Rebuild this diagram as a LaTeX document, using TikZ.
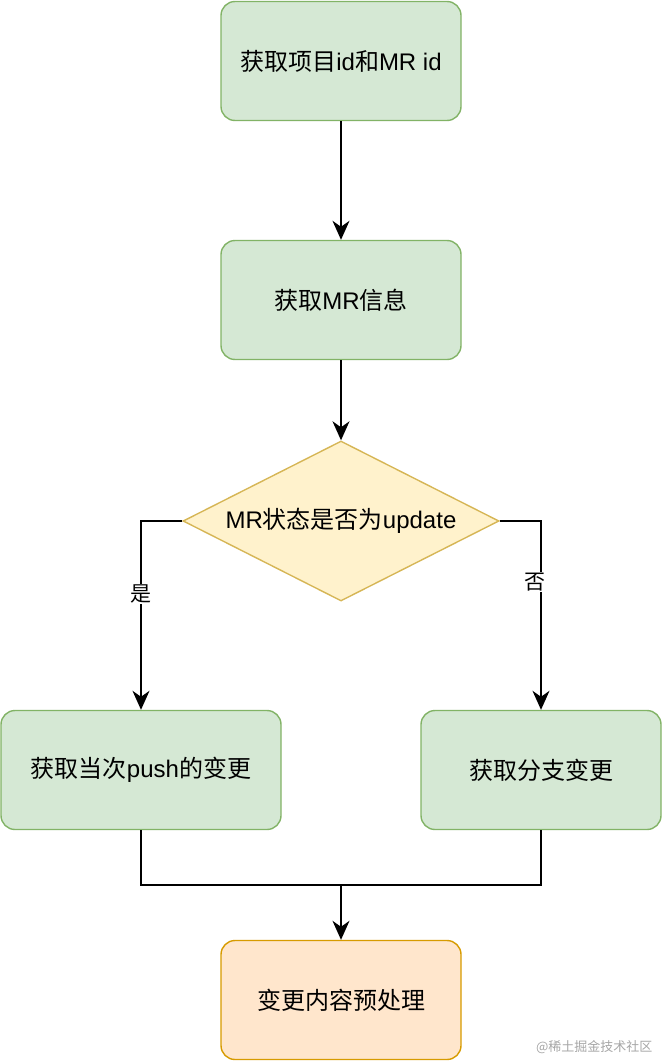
\documentclass[tikz,border=0pt]{standalone}
\usepackage{fontspec}
\setmainfont{Liberation Sans}
\newfontfamily\cjk{Noto Sans CJK SC}
\usetikzlibrary{shapes.geometric,arrows.meta}
\definecolor{gfill}{HTML}{D5E8D4}
\definecolor{gline}{HTML}{82B366}
\definecolor{yfill}{HTML}{FFF2CC}
\definecolor{yline}{HTML}{D6B656}
\definecolor{ofill}{HTML}{FFE6CC}
\definecolor{oline}{HTML}{D79B00}
\tikzset{
  gbox/.style={draw=gline, fill=gfill, line width=1.4pt, rounded corners=14pt,
    minimum height=119pt, inner sep=0pt, font=\fontsize{24}{28}\selectfont},
  obox/.style={gbox, draw=oline, fill=ofill},
  dec/.style={diamond, draw=yline, fill=yfill, line width=1.4pt, aspect=1.975,
    minimum width=316pt, minimum height=160pt, inner sep=0pt, font=\fontsize{24}{28}\selectfont},
  conn/.style={line width=1.6pt, -{Stealth[length=19pt,width=17pt,inset=6pt]}},
  plain/.style={line width=1.6pt},
  lab/.style={fill=white, inner sep=1pt, font=\cjk\fontsize{21}{24}\selectfont}
}
\begin{document}
\begin{tikzpicture}[x=1pt,y=-1pt]
\useasboundingbox (0,0) rectangle (662,1062);
\node[gbox, minimum width=240pt] (b1) at (341,61) {{\cjk 获取项目}id{\cjk 和}MR id};
\node[gbox, minimum width=240pt] (b2) at (341,300) {{\cjk 获取}MR{\cjk 信息}};
\node[dec] (d) at (341,521) {MR{\cjk 状态是否为}update};
\node[gbox, minimum width=280pt] (b3) at (141,770) {{\cjk 获取当次}push{\cjk 的变更}};
\node[gbox, minimum width=240pt] (b4) at (541,770) {{\cjk 获取分支变更}};
\node[obox, minimum width=240pt] (b5) at (341,1000) {{\cjk 变更内容预处理}};
\coordinate (m) at (341,885);
\draw[conn] (b1) -- (b2);
\draw[conn] (b2) -- (d);
\draw[conn] (d.west) -| (b3.north);
\draw[conn] (d.east) -| (b4.north);
\draw[plain] (b3.south) |- (m);
\draw[plain] (b4.south) |- (m);
\draw[conn] (m) -- (b5.north);
\node[lab] (ly) at (141,594) {是};
\node[lab] (ln) at (535,582) {否};
\node[font=\cjk\fontsize{13}{15}\selectfont, text=black!35, anchor=east] (wm) at (656,1047) {@稀土掘金技术社区};
\end{tikzpicture}
\end{document}
